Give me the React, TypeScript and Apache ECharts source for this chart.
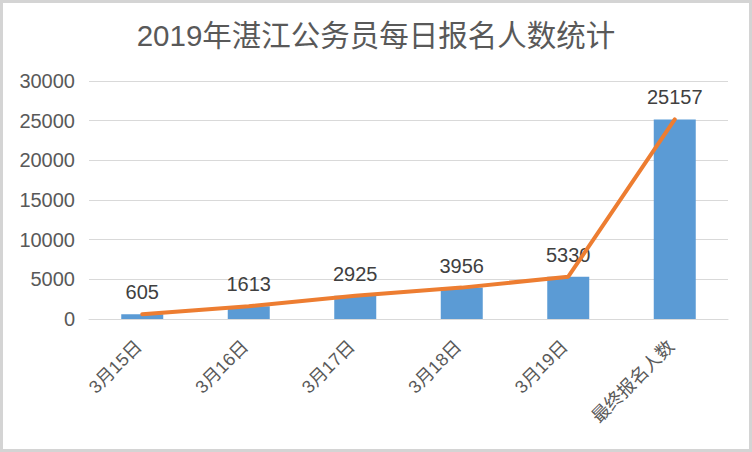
import React, { useEffect, useRef } from "react";
import * as echarts from "echarts";

const categories = ["3月15日", "3月16日", "3月17日", "3月18日", "3月19日", "最终报名人数"];
const counts = [605, 1613, 2925, 3956, 5330, 25157];
const titleText = "2019年湛江公务员每日报名人数统计";

const FONT = '"Liberation Sans", "Noto Sans CJK SC", sans-serif';

export default function App() {
  const ref = useRef<HTMLDivElement>(null);
  useEffect(() => {
    if (!ref.current) return;
    const chart = echarts.init(ref.current, null, { renderer: "svg" });
    chart.setOption({
      animation: false,
      backgroundColor: "#ffffff",
      title: {
        text: titleText,
        left: "center",
        top: 16,
        textStyle: { fontFamily: FONT, fontSize: 29.5, fontWeight: "normal", color: "#595959" },
      },
      graphic: [
        {
          type: "rect",
          shape: { x: 1.5, y: 1.5, width: 749, height: 449 },
          style: { fill: "none", stroke: "#d4d4d4", lineWidth: 3 },
          silent: true,
        },
      ],
      grid: { left: 89, right: 24, top: 81, bottom: 133, containLabel: false },
      xAxis: {
        type: "category",
        data: categories,
        axisTick: { show: false },
        axisLine: { lineStyle: { color: "#d9d9d9", width: 1 } },
        axisLabel: {
          interval: 0,
          rotate: 45,
          margin: 21,
          padding: [0, 5, 0, 0],
          fontSize: 18,
          fontFamily: FONT,
          color: "#595959",
        },
      },
      yAxis: {
        type: "value",
        min: 0,
        max: 30000,
        interval: 5000,
        axisLine: { show: false },
        axisTick: { show: false },
        splitLine: { lineStyle: { color: "#d9d9d9", width: 1 } },
        axisLabel: {
          fontSize: 20,
          fontFamily: FONT,
          color: "#595959",
          margin: 14,
          formatter: (v: number) => String(v),
        },
      },
      series: [
        {
          type: "bar",
          data: counts,
          barWidth: 42,
          itemStyle: { color: "#5B9BD5" },
          label: {
            show: true,
            position: "top",
            distance: 12,
            fontSize: 20,
            fontFamily: FONT,
            color: "#404040",
          },
          z: 2,
        },
        {
          type: "line",
          data: counts,
          symbol: "none",
          lineStyle: { color: "#ED7D31", width: 4, cap: "round", join: "round" },
          z: 3,
        },
      ],
    });
    return () => chart.dispose();
  }, []);
  return (
    <div
      ref={ref}
      style={{ position: "fixed", left: 0, top: 0, width: 752, height: 452 }}
    />
  );
}
